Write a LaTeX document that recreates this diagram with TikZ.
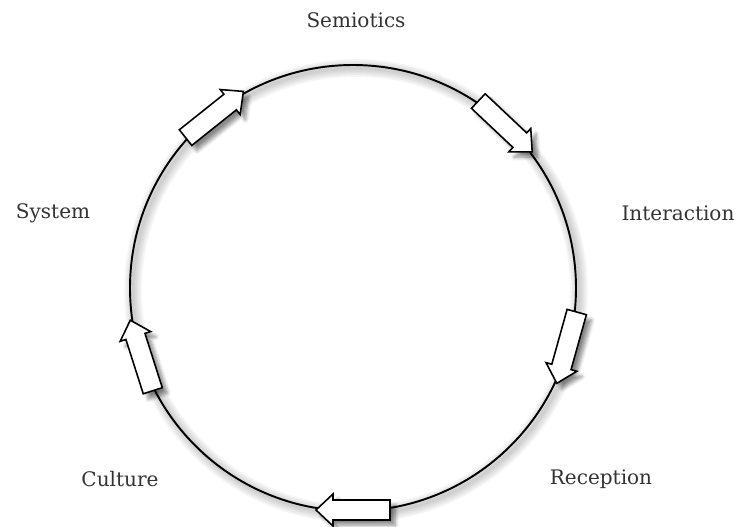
\documentclass[tikz,border=0pt]{standalone}
\usepackage{fontspec}
\setmainfont{DejaVu Serif}
\usetikzlibrary{shadows.blur}

\definecolor{labelgray}{gray}{0.2}
\tikzset{
  stage/.style={text=labelgray, font=\fontsize{11.4}{13.7}\selectfont},
  flow/.style={draw=black, fill=white, line width=0.9pt, line join=miter,
    blur shadow={shadow xshift=3pt, shadow yshift=-3pt, shadow blur steps=6, shadow opacity=45}},
}
% block arrow sitting on the circle at angle #1, pointing clockwise
\newcommand{\flowarrow}[1]{%
  \draw[flow, shift={(#1:222)}, rotate=#1-90]
    (-37,-10) -- (20,-10) -- (20,-16) -- (37,0) -- (20,16) -- (20,10) -- (-37,10) -- cycle;
}

\begin{document}
\begin{tikzpicture}[x=0.02cm, y=0.02cm]
    \useasboundingbox (-353,-239) rectangle (384,288);
    \foreach \w in {2,4,6,8,10}
      \draw[black, opacity=0.04, line width=\w pt] (3,-3) circle (223);
    \draw[line width=1.1pt] (0,0) circle (223);
    \flowarrow{128.6}
    \flowarrow{46.7}
    \flowarrow{-15.6}
    \flowarrow{-90}
    \flowarrow{-162.3}
    \node[stage] (semiotics) at (3,268) {Semiotics};
    \node[stage] (interaction) at (325,75) {Interaction};
    \node[stage] (reception) at (248,-191) {Reception};
    \node[stage] (culture) at (-233,-191) {Culture};
    \node[stage] (system) at (-300,75) {System};
  \end{tikzpicture}
\end{document}
